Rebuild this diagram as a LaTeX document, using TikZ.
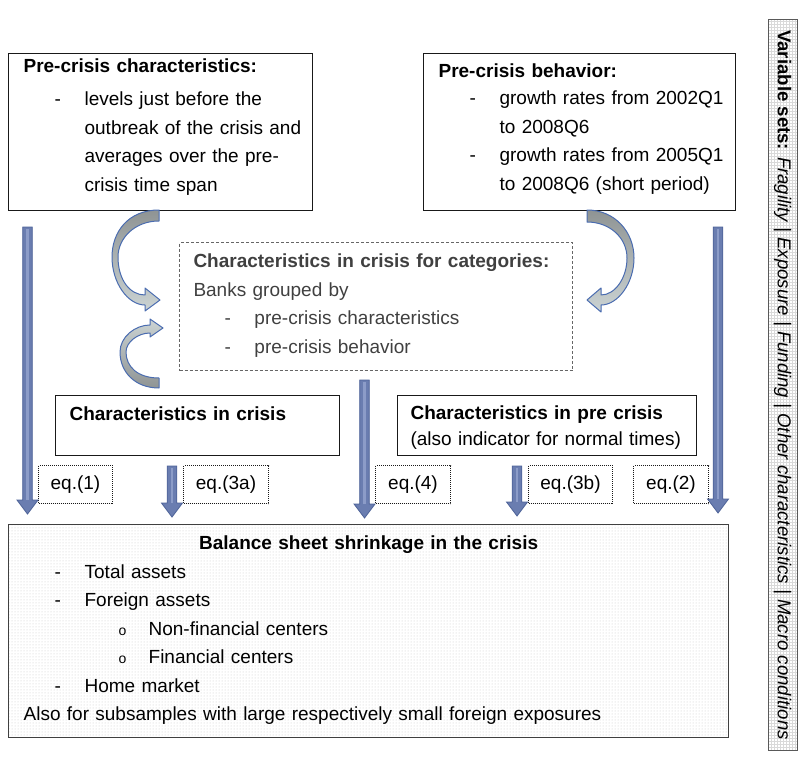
\documentclass[tikz,border=0pt]{standalone}
\usepackage{fontspec}
\setmainfont{Liberation Sans}
\usetikzlibrary{patterns}

\definecolor{arrowfill}{HTML}{6A7DB0}
\definecolor{arrowline}{HTML}{4D6298}
\definecolor{arrowlight}{HTML}{8C9CC8}
\definecolor{bendline}{HTML}{4A6CB0}
\definecolor{benddark}{HTML}{8F9494}
\definecolor{bendlight}{HTML}{CBD3D3}
\definecolor{cattext}{HTML}{404040}

% list lines: dash item, continued line, sub item
\newcommand{\dashln}[1]{\mbox{\makebox[61pt][l]{\hspace*{31pt}-}#1}}
\newcommand{\contln}[1]{\mbox{\hspace*{61pt}#1}}
\newcommand{\subln}[1]{\mbox{\makebox[125pt][l]{\hspace*{95pt}{\fontsize{14}{14}\selectfont o}}#1}}

\begin{document}
\begin{tikzpicture}[x=1pt,y=-1pt,
  every node/.style={font=\fontsize{19}{28.5}\selectfont,inner sep=0pt},
  box/.style={draw=black!90,line width=1.2pt,anchor=north west,align=left,
    inner xsep=15pt,inner ysep=0pt},
  catbox/.style={box,draw=black!60,line width=1pt,dash pattern=on 3pt off 2pt,
    text=cattext,inner xsep=14pt},
  eqbox/.style={draw=black!90,densely dotted,line width=1pt,anchor=north west,
    minimum height=38pt},
  bendarrow/.style={draw=bendline,line width=1pt,line join=round},
  blockdown/.style={fill=arrowfill,draw=arrowline,line width=0.8pt,line join=miter,
    to path={([xshift=-4.8pt]\tikztostart) -- ([xshift=-4.8pt,yshift=14pt]\tikztotarget)
      -- ([xshift=-10.5pt,yshift=14pt]\tikztotarget) -- (\tikztotarget)
      -- ([xshift=10.5pt,yshift=14pt]\tikztotarget) -- ([xshift=4.8pt,yshift=14pt]\tikztotarget)
      -- ([xshift=4.8pt]\tikztostart) -- cycle}},
  stripe/.style={arrowlight,line width=2.5pt,shorten <=2pt,shorten >=14pt}]
  \useasboundingbox (0,0) rectangle (802,762);

  % upper boxes
  \node[box,text width=274pt,text height=19pt,text depth=138pt] (pchar) at (8,53)
    {\textbf{Pre-crisis characteristics:}\\[4.5pt]
     \dashln{levels just before the}\\
     \contln{outbreak of the crisis and}\\
     \contln{averages over the pre-}\\
     \contln{crisis time span}};
  \node[box,text width=282pt,text height=24pt,text depth=133pt] (pbeh) at (423,53)
    {\textbf{Pre-crisis behavior:}\\[-1.5pt]
     \dashln{growth rates from 2002Q1}\\
     \contln{to 2008Q6}\\
     \dashln{growth rates from 2005Q1}\\
     \contln{to 2008Q6 (short period)}};
  \node[catbox,text width=365pt,text height=25pt,text depth=103pt] (cat) at (179,242)
    {\textbf{Characteristics in crisis for categories:}\\
     Banks grouped by\\
     \dashln{pre-crisis characteristics}\\
     \dashln{pre-crisis behavior}};

  % middle boxes
  \node[box,inner xsep=14pt,text width=256pt,text height=25pt,text depth=35pt] (crisis) at (55,395)
    {\textbf{Characteristics in crisis}};
  \node[box,inner xsep=13pt,text width=273pt,text height=24pt,text depth=36pt,
    font=\fontsize{19}{26}\selectfont] (precrisis) at (397,395)
    {\textbf{Characteristics in pre crisis}\\
     (also indicator for normal times)};

  % equation labels
  \node[eqbox,minimum width=74pt] (eq1) at (38,465) {eq.(1)};
  \node[eqbox,minimum width=85pt] (eq3a) at (183,465) {eq.(3a)};
  \node[eqbox,minimum width=75pt] (eq4) at (375,465) {eq.(4)};
  \node[eqbox,minimum width=84pt] (eq3b) at (528,465) {eq.(3b)};
  \node[eqbox,minimum width=75pt] (eq2) at (633,465) {eq.(2)};

  % result box
  \node[box,draw=black!75,line width=1.3pt,pattern=dots,pattern color=black!22,
    text width=690pt,text height=25pt,text depth=188pt] (shrink) at (8,524)
    {\makebox[690pt]{\textbf{Balance sheet shrinkage in the crisis}}\\
     \dashln{Total assets}\\
     \dashln{Foreign assets}\\
     \subln{Non-financial centers}\\
     \subln{Financial centers}\\
     \dashln{Home market}\\
     Also for subsamples with large respectively small foreign exposures};

  % variable sets bar
  \node[draw=black!65,line width=1pt,pattern=grid,pattern color=black!15,rotate=-90,
    minimum width=730pt,minimum height=29pt,font=\fontsize{18.6}{20}\selectfont] (vars) at (782.5,385)
    {\textbf{Variable sets:} \textit{Fragility | Exposure | Funding | Other characteristics | Macro conditions}};

  % curved arrows into the category box
  \path[bendarrow,top color=benddark,bottom color=bendlight]
    (159,210) .. controls (128,210) and (112,232) .. (112,257)
    .. controls (112,283) and (128,305) .. (145,305) -- (145,311) -- (160,300)
    -- (145,288) -- (145,295) .. controls (130,295) and (118,280) .. (118,257)
    .. controls (118,238) and (135,221) .. (159,221) -- cycle;
  \path[bendarrow,top color=bendlight,bottom color=benddark]
    (159,388) .. controls (135,388) and (120,372) .. (120,352)
    .. controls (120,337) and (135,325) .. (150,325) -- (150,319) -- (163,328)
    -- (150,337) -- (150,333) .. controls (138,333) and (126,342) .. (126,352)
    .. controls (126,367) and (138,378) .. (159,378) -- cycle;
  \path[bendarrow,top color=benddark,bottom color=bendlight]
    (587,210) .. controls (615,210) and (634,232) .. (634,258)
    .. controls (634,283) and (618,305) .. (601,305) -- (601,312) -- (587,300)
    -- (601,288) -- (601,295) .. controls (615,295) and (627,278) .. (627,258)
    .. controls (627,238) and (610,222) .. (587,222) -- cycle;

  % straight arrows down to the result box
  \coordinate (a1s) at (27.5,227);  \coordinate (a1e) at (27.5,514);
  \coordinate (a2s) at (172,466);   \coordinate (a2e) at (172,517);
  \coordinate (a3s) at (364.5,380); \coordinate (a3e) at (364.5,518);
  \coordinate (a4s) at (517,466);   \coordinate (a4e) at (517,516);
  \coordinate (a5s) at (718,227);   \coordinate (a5e) at (718,513);
  \foreach \s/\e in {a1s/a1e,a2s/a2e,a3s/a3e,a4s/a4e,a5s/a5e}{
    \draw[blockdown] (\s) to (\e);
    \draw[stripe] (\s) -- (\e);
  }
\end{tikzpicture}
\end{document}
